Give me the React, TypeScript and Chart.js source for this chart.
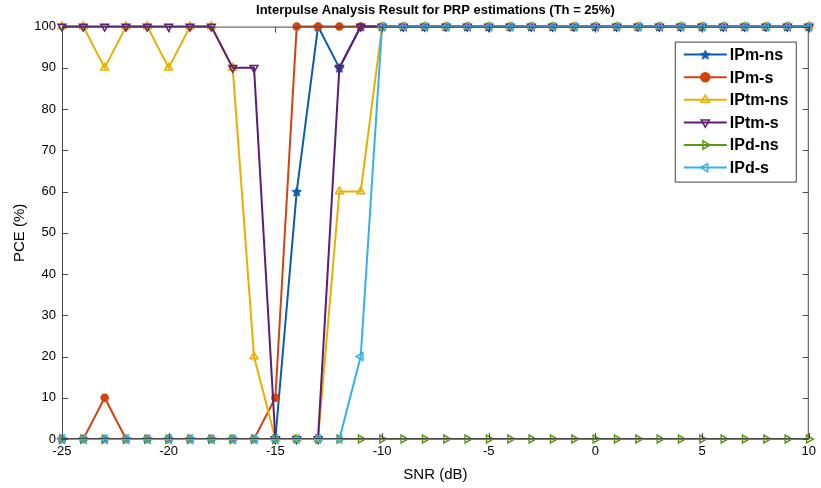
import React, { useEffect, useRef } from 'react';
import { Chart, registerables } from 'chart.js';

Chart.register(...registerables);

const snr = [-25, -24, -23, -22, -21, -20, -19, -18, -17, -16, -15, -14, -13, -12, -11, -10, -9, -8, -7, -6, -5, -4, -3, -2, -1, 0, 1, 2, 3, 4, 5, 6, 7, 8, 9, 10];

const ipmNs = [0, 0, 0, 0, 0, 0, 0, 0, 0, 0, 0, 60, 100, 90, 100, 100, 100, 100, 100, 100, 100, 100, 100, 100, 100, 100, 100, 100, 100, 100, 100, 100, 100, 100, 100, 100];
const ipmS = [0, 0, 10, 0, 0, 0, 0, 0, 0, 0, 10, 100, 100, 100, 100, 100, 100, 100, 100, 100, 100, 100, 100, 100, 100, 100, 100, 100, 100, 100, 100, 100, 100, 100, 100, 100];
const iptmNs = [100, 100, 90, 100, 100, 90, 100, 100, 90, 20, 0, 0, 0, 60, 60, 100, 100, 100, 100, 100, 100, 100, 100, 100, 100, 100, 100, 100, 100, 100, 100, 100, 100, 100, 100, 100];
const iptmS = [100, 100, 100, 100, 100, 100, 100, 100, 90, 90, 0, 0, 0, 90, 100, 100, 100, 100, 100, 100, 100, 100, 100, 100, 100, 100, 100, 100, 100, 100, 100, 100, 100, 100, 100, 100];
const ipdNs = [0, 0, 0, 0, 0, 0, 0, 0, 0, 0, 0, 0, 0, 0, 0, 0, 0, 0, 0, 0, 0, 0, 0, 0, 0, 0, 0, 0, 0, 0, 0, 0, 0, 0, 0, 0];
const ipdS = [0, 0, 0, 0, 0, 0, 0, 0, 0, 0, 0, 0, 0, 0, 20, 100, 100, 100, 100, 100, 100, 100, 100, 100, 100, 100, 100, 100, 100, 100, 100, 100, 100, 100, 100, 100];

const seriesNames = ['IPm-ns', 'IPm-s', 'IPtm-ns', 'IPtm-s', 'IPd-ns', 'IPd-s'];
const seriesValues = [ipmNs, ipmS, iptmNs, iptmS, ipdNs, ipdS];
const seriesColors = ['#0b5cad', '#d2430f', '#e9b000', '#5e1c78', '#5a9a14', '#35b2ea'];
const seriesMarkers = ['star', 'circle', 'triangle', 'triangle', 'triangle', 'triangle'];
const seriesRotation = [0, 0, 0, 180, 90, -90];

const xTicks = [-25, -20, -15, -10, -5, 0, 5, 10];
const yTicks = [0, 10, 20, 30, 40, 50, 60, 70, 80, 90, 100];

const FONT = '"Liberation Sans", Arial, Helvetica, sans-serif';

function makeStar(color: string, size: number) {
  const c = document.createElement('canvas');
  c.width = size;
  c.height = size;
  const ctx = c.getContext('2d')!;
  const cx = size / 2, cy = size / 2 + 0.5;
  const R = size / 2 - 0.5, r = R * 0.45;
  ctx.beginPath();
  for (let i = 0; i < 10; i++) {
    const a = -Math.PI / 2 + (i * Math.PI) / 5;
    const rr = i % 2 === 0 ? R : r;
    ctx.lineTo(cx + rr * Math.cos(a), cy + rr * Math.sin(a));
  }
  ctx.closePath();
  ctx.fillStyle = color;
  ctx.fill();
  ctx.strokeStyle = color;
  ctx.lineWidth = 1;
  ctx.stroke();
  return c;
}

function drawMarker(ctx: CanvasRenderingContext2D, kind: string, rot: number, x: number, y: number, r: number, color: string, star: HTMLCanvasElement) {
  ctx.save();
  ctx.strokeStyle = color;
  ctx.lineWidth = 1.5;
  if (kind === 'star') {
    ctx.drawImage(star, x - star.width / 2, y - star.height / 2);
  } else if (kind === 'circle') {
    ctx.beginPath();
    ctx.arc(x, y, r, 0, Math.PI * 2);
    ctx.fillStyle = color;
    ctx.fill();
    ctx.stroke();
  } else {
    let rad = (rot * Math.PI) / 180;
    const s = r * 1.05;
    ctx.beginPath();
    ctx.moveTo(x + Math.sin(rad) * s, y - Math.cos(rad) * s);
    rad += (2 * Math.PI) / 3;
    ctx.lineTo(x + Math.sin(rad) * s, y - Math.cos(rad) * s);
    rad += (2 * Math.PI) / 3;
    ctx.lineTo(x + Math.sin(rad) * s, y - Math.cos(rad) * s);
    ctx.closePath();
    ctx.stroke();
  }
  ctx.restore();
}

export default function App() {
  const ref = useRef<HTMLCanvasElement | null>(null);

  useEffect(() => {
    document.body.style.margin = '0';
    const canvas = ref.current!;
    const star = makeStar(seriesColors[0], 11);

    const frame = {
      id: 'matlabFrame',
      afterDatasetsDraw(chart: any) {
        const { ctx, chartArea } = chart;
        const xs = chart.scales.x;
        const ys = chart.scales.y;
        ctx.save();
        ctx.strokeStyle = '#4a4a4a';
        ctx.lineWidth = 1;
        ctx.strokeRect(chartArea.left + 0.5, chartArea.top + 0.5, chartArea.right - chartArea.left - 1, chartArea.bottom - chartArea.top - 1);
        ctx.beginPath();
        const tl = 6;
        xTicks.forEach((t) => {
          const px = Math.round(xs.getPixelForValue(t)) + 0.5;
          ctx.moveTo(px, chartArea.bottom);
          ctx.lineTo(px, chartArea.bottom - tl);
          ctx.moveTo(px, chartArea.top);
          ctx.lineTo(px, chartArea.top + tl);
        });
        yTicks.forEach((t) => {
          const py = Math.round(ys.getPixelForValue(t)) + 0.5;
          ctx.moveTo(chartArea.left, py);
          ctx.lineTo(chartArea.left + tl, py);
          ctx.moveTo(chartArea.right, py);
          ctx.lineTo(chartArea.right - tl, py);
        });
        ctx.stroke();
        ctx.restore();
      },
      afterDraw(chart: any) {
        const { ctx, chartArea } = chart;
        const w = 121, h = 140;
        const left = chartArea.right - 13 - w;
        const top = chartArea.top + 15;
        ctx.save();
        ctx.fillStyle = '#ffffff';
        ctx.fillRect(left, top, w, h);
        ctx.strokeStyle = '#444444';
        ctx.lineWidth = 1;
        ctx.strokeRect(left + 0.5, top + 0.5, w, h);
        ctx.font = 'bold 16px ' + FONT;
        ctx.textBaseline = 'middle';
        ctx.textAlign = 'left';
        seriesNames.forEach((name, i) => {
          const y = top + 13 + i * 22.6;
          ctx.strokeStyle = seriesColors[i];
          ctx.lineWidth = 2;
          ctx.beginPath();
          ctx.moveTo(left + 9, y);
          ctx.lineTo(left + 52, y);
          ctx.stroke();
          drawMarker(ctx, seriesMarkers[i], seriesRotation[i], left + 30.5, y, 4.5, seriesColors[i], star);
          ctx.fillStyle = '#000000';
          ctx.fillText(name, left + 55, y + 1);
        });
        ctx.restore();
      },
    };

    const datasets = seriesNames.map((name, i) => ({
      label: name,
      data: snr.map((x, j) => ({ x, y: seriesValues[i][j] })),
      borderColor: seriesColors[i],
      backgroundColor: seriesMarkers[i] === 'circle' ? seriesColors[i] : 'rgba(0,0,0,0)',
      borderWidth: 2,
      pointStyle: seriesMarkers[i] === 'star' ? star : seriesMarkers[i],
      pointRotation: seriesRotation[i],
      pointRadius: seriesMarkers[i] === 'circle' ? 3.5 : 4.5,
      pointBorderWidth: 1.5,
      pointBorderColor: seriesColors[i],
      pointBackgroundColor: seriesMarkers[i] === 'circle' ? seriesColors[i] : 'rgba(0,0,0,0)',
      tension: 0,
      clip: false as any,
      order: seriesNames.length - 1 - i,
    }));

    const chart = new Chart(canvas, {
      type: 'line',
      data: { datasets },
      options: {
        animation: false,
        responsive: true,
        maintainAspectRatio: false,
        layout: { padding: { left: 0, right: 9, top: 0, bottom: 0 } },
        plugins: {
          legend: { display: false },
          tooltip: { enabled: false },
          title: {
            display: true,
            text: 'Interpulse Analysis Result for PRP estimations (Th = 25%)',
            color: '#000000',
            fullSize: false,
            font: { family: FONT, size: 13, weight: 'bold' },
            padding: { top: 3, bottom: 8 },
          },
        },
        scales: {
          x: {
            type: 'linear',
            min: -25,
            max: 10,
            afterFit: (s: any) => { s.height = 49; },
            grid: { display: false, drawTicks: false },
            border: { display: false },
            ticks: {
              stepSize: 5,
              padding: 5,
              color: '#000000',
              font: { family: FONT, size: 13 },
              maxRotation: 0,
              autoSkip: false,
            },
            title: {
              display: true,
              text: 'SNR (dB)',
              color: '#000000',
              font: { family: FONT, size: 15 },
              padding: { top: 0, bottom: 4 },
            },
          },
          y: {
            min: 0,
            max: 100,
            afterFit: (s: any) => { s.width = 62; },
            grid: { display: false, drawTicks: false },
            border: { display: false },
            ticks: {
              stepSize: 10,
              padding: 6,
              color: '#000000',
              font: { family: FONT, size: 13 },
            },
            title: {
              display: true,
              text: 'PCE (%)',
              color: '#000000',
              font: { family: FONT, size: 15 },
              padding: { top: 11, bottom: 0 },
            },
          },
        },
      },
      plugins: [frame],
    });

    return () => chart.destroy();
  }, []);

  return (
    <div style={{ position: 'relative', width: '821px', height: '488px' }}>
      <canvas ref={ref} />
    </div>
  );
}
